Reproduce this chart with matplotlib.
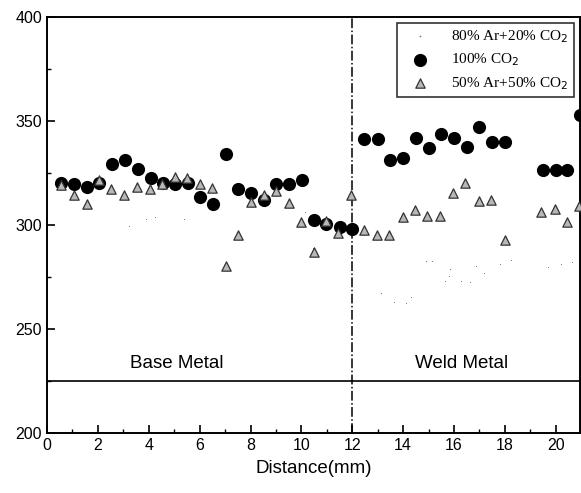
import matplotlib.pyplot as plt
from matplotlib.ticker import MultipleLocator

# 100% CO2 (filled circles)
co2_x = [0.54, 1.06, 1.56, 2.06, 2.56, 3.08, 3.57, 4.07, 4.55, 5.05, 5.55, 6.02, 6.52,
         7.04, 7.52, 8.02, 8.54, 9.02, 9.5, 10.01, 10.51, 10.98, 11.5, 12.0,
         12.48, 13.0, 13.5, 14.0, 14.5, 15.01, 15.5, 16.0, 16.5, 17.0, 17.5, 18.0,
         19.5, 20.0, 20.46, 20.95]
co2_y = [320.3, 319.7, 318, 320, 329, 331, 327, 322.6, 320, 319.7, 320, 313.3, 310,
         334, 317, 315.5, 312, 319.5, 319.5, 321.3, 302.4, 300.5, 299, 298,
         341.2, 341.2, 331.2, 331.9, 341.7, 336.7, 343.8, 341.7, 337.6, 347, 340, 340,
         326.4, 326.4, 326.4, 353]

# 50% Ar + 50% CO2 (grey triangles)
ar50_x = [0.54, 1.04, 1.56, 2.03, 2.53, 3.03, 3.53, 4.03, 4.53, 5.03, 5.5, 6.0, 6.5,
          7.02, 7.52, 8.03, 8.52, 8.99, 9.5, 9.99, 10.48, 10.98, 11.46, 11.96,
          12.48, 12.98, 13.45, 13.98, 14.48, 14.95, 15.47, 15.97, 16.45, 16.97, 17.47,
          17.99, 19.44, 19.96, 20.46, 20.92]
ar50_y = [319.2, 314.4, 310, 321.6, 317.2, 314.3, 318.1, 317.2, 319.4, 323.2, 322.3, 319.4, 317.5,
          280, 295, 311, 314.3, 316.2, 310.4, 301.4, 287, 301.8, 296, 314.4,
          297.6, 295, 295, 303.7, 306.9, 304, 304, 315.5, 320.3, 311.4, 312,
          292.5, 306.3, 307.5, 301.4, 308.8]

# 80% Ar + 20% CO2 (faint dots, barely visible in the scan)
ar80_x = [3.24, 3.9, 4.24, 5.4, 10.16, 10.47,
          13.15, 13.66, 14.13, 14.32, 14.92, 15.14, 15.66, 15.81, 15.84, 16.26, 16.65,
          16.86, 17.18, 17.83, 18.23, 19.7, 20.22, 20.66]
ar80_y = [299.5, 303, 303.7, 303, 306, 289,
          267, 263, 262.6, 265.5, 282.8, 282.8, 273, 275.5, 278.7, 272.8, 272.3,
          280, 277, 281, 283, 279.5, 281.3, 282]

fig = plt.figure(figsize=(5.81, 4.93), dpi=100)
ax = fig.add_axes([0.081, 0.122, 0.917, 0.844])

ax.scatter(ar80_x, ar80_y, s=2, color='#777777', marker='.', linewidths=0,
           label='80% Ar+20% CO$_2$', zorder=2)
ax.scatter(co2_x, co2_y, s=90, color='black', marker='o', linewidths=0,
           label='100% CO$_2$', zorder=3)
ax.scatter(ar50_x, ar50_y, s=45, facecolor='#b8b8b8', edgecolor='#333333', marker='^',
           linewidths=0.9, label='50% Ar+50% CO$_2$', zorder=4)

# region separators
ax.axvline(12, color='black', linestyle='-.', linewidth=1.1, zorder=1)
ax.axhline(225, color='black', linewidth=1.2, zorder=1)
ax.text(5.1, 233.5, 'Base Metal', fontsize=13.5, family='Liberation Sans',
        ha='center', va='center')
ax.text(16.3, 233.5, 'Weld Metal', fontsize=13.5, family='Liberation Sans',
        ha='center', va='center')

ax.set_xlim(0, 20.95)
ax.set_ylim(200, 400)
ax.xaxis.set_major_locator(MultipleLocator(2))
ax.xaxis.set_minor_locator(MultipleLocator(1))
ax.yaxis.set_major_locator(MultipleLocator(50))
ax.yaxis.set_minor_locator(MultipleLocator(25))
ax.tick_params(which='both', direction='in', top=False, right=False)
ax.tick_params(which='major', length=6, width=1.2, labelsize=11.5)
ax.tick_params(which='minor', length=3, width=1)
for lab in ax.get_xticklabels() + ax.get_yticklabels():
    lab.set_family('Liberation Sans')
for sp in ax.spines.values():
    sp.set_linewidth(1.4)

ax.set_xlabel('Distance(mm)', fontsize=13.5, family='Liberation Sans', labelpad=5)

leg = ax.legend(loc='upper right', prop={'family': 'Liberation Serif', 'size': 11},
                frameon=True, fancybox=False, edgecolor='black', borderpad=0.35,
                labelspacing=0.45, handletextpad=0.9, handlelength=2.3,
                borderaxespad=0.4)
leg.get_frame().set_linewidth(1.2)
leg.legend_handles[0].set_sizes([6])

fig.savefig('out.png', dpi=100)
